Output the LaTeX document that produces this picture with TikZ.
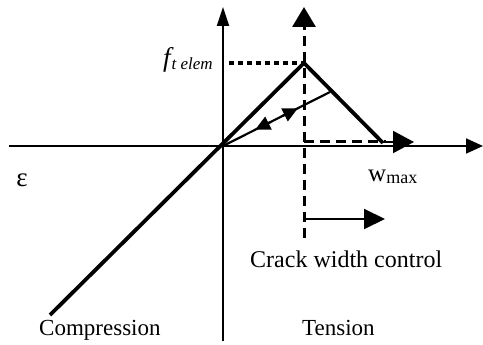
\documentclass[tikz,border=0pt]{standalone}
\usepackage{fontspec}
\setmainfont{Liberation Serif}
\usetikzlibrary{arrows.meta}
\begin{document}
\begin{tikzpicture}[x=1pt,y=-1pt,
  axis/.style={line width=1.8pt},
  thickline/.style={line width=3.8pt},
  dashline/.style={line width=3pt,dash pattern=on 10pt off 6pt},
  dotline/.style={line width=4pt,dash pattern=on 5pt off 4pt},
  lbl/.style={inner sep=0pt,anchor=base west,font=\fontsize{23}{23}\selectfont}]
\useasboundingbox (0,0) rectangle (483,345);
% coordinates
\coordinate (O) at (223,146);
\coordinate (ytop) at (223,7);
\coordinate (ybot) at (223,341);
\coordinate (xleft) at (9,146);
\coordinate (xright) at (483,146);
\coordinate (P) at (304,63);
\coordinate (W) at (383,143);
\coordinate (C) at (50,315);
\coordinate (U) at (330,92);
\coordinate (dtop) at (304,7);
\coordinate (dbot) at (304,238);
\coordinate (dcorner) at (304,142);
\coordinate (dend) at (386,142);
\coordinate (warr) at (414,142);
\coordinate (cs) at (304,219);
\coordinate (ce) at (385,219);
\coordinate (fl) at (229,63);
% axes
\draw[axis,-{Triangle[length=19pt,width=12pt]}] (ybot) -- (ytop);
\draw[axis,-{Triangle[length=17pt,width=15pt]}] (xleft) -- (xright);
% dotted level
\draw[dotline] (fl) -- (P);
% dashed
\draw[dashline,-{Triangle[length=20pt,width=23pt]}] (dbot) -- (dtop);
\draw[dashline] (dcorner) -- (dend);
\draw[line width=2.2pt,-{Triangle[length=21pt,width=22pt]}] (380,142) -- (warr);
% main curve
\draw[thickline,line cap=butt,line join=miter] (C) -- (P) -- (W);
% unloading
\draw[line width=2.2pt] (O) -- (U);
\path (O) -- (U)
  coordinate[pos=0.56] (a1s) coordinate[pos=0.70] (a1e)
  coordinate[pos=0.44] (a2s) coordinate[pos=0.30] (a2e);
\draw[line width=2.2pt,-{Triangle[length=15pt,width=14pt]}] (a1s) -- (a1e);
\draw[line width=2.2pt,-{Triangle[length=15pt,width=14pt]}] (a2s) -- (a2e);
% crack width arrow
\draw[line width=2pt,-{Triangle[length=21pt,width=20pt]}] (cs) -- (ce);
% labels
\node[lbl] (flab) at (163,67) {\fontsize{27}{27}\selectfont\itshape f\kern1pt\raisebox{-3pt}{\fontsize{17}{17}\selectfont t elem}};
\node[inner sep=0pt,font=\fontsize{27}{27}\selectfont] (eps) at (22,180) {ε};
\node[lbl] (wlab) at (368,182) {\fontsize{25}{25}\selectfont w\raisebox{-2pt}{\fontsize{18}{18}\selectfont max}};
\node[lbl] (crack) at (250,267) {\fontsize{24}{24}\selectfont Crack width control};
\node[lbl] (comp) at (39,335) {Compression};
\node[lbl] (tens) at (302,335) {Tension};
\end{tikzpicture}
\end{document}
